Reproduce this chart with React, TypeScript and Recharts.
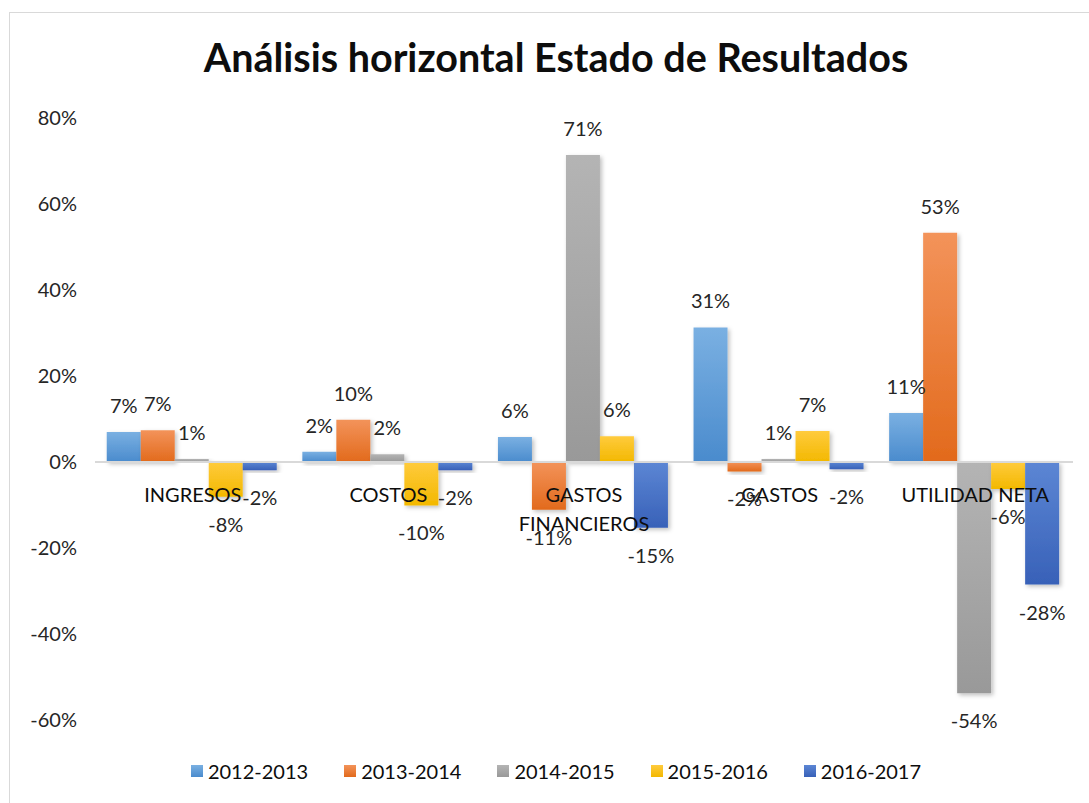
import { BarChart, Bar, XAxis, YAxis, ReferenceLine, LabelList } from "recharts";

const categories = ["INGRESOS", "COSTOS", "GASTOS FINANCIEROS", "GASTOS", "UTILIDAD NETA"];
const periods = ["2012-2013", "2013-2014", "2014-2015", "2015-2016", "2016-2017"];

const v2012 = [7.0, 2.4, 5.8, 31.3, 11.4];
const v2013 = [7.4, 9.8, -11.1, -2.2, 53.3];
const v2014 = [0.7, 1.8, 71.4, 0.7, -53.8];
const v2015 = [-8.1, -10.1, 6.0, 7.2, -6.3];
const v2016 = [-1.9, -1.9, -15.3, -1.7, -28.5];

const yTicks = [-60, -40, -20, 0, 20, 40, 60, 80];

const seriesValues = [v2012, v2013, v2014, v2015, v2016];
const colors = [
  { base: "#5b9bd5", top: "#7ab0e2", bottom: "#4a8bcd" },
  { base: "#ed7d31", top: "#f3935a", bottom: "#e26a1c" },
  { base: "#a5a5a5", top: "#b4b4b4", bottom: "#999999" },
  { base: "#ffc000", top: "#ffcb3d", bottom: "#f3b800" },
  { base: "#4472c4", top: "#5c86d4", bottom: "#3861b8" },
];

const data = categories.map((name, i) => {
  const row: Record<string, string | number> = { name };
  periods.forEach((p, s) => {
    row[p] = seriesValues[s][i];
  });
  return row;
});

const W = 1089;
const H = 803;
const MARGIN = { top: 118, right: 16, bottom: 53, left: 0 };
const X_AXIS_H = 30;
const Y_MIN = -60;
const Y_MAX = 80;
const PLOT_H = H - MARGIN.top - MARGIN.bottom - X_AXIS_H;
const FONT = "Lato, 'Open Sans', sans-serif";

function CategoryTick(props: any) {
  const { x, y, payload } = props;
  const zeroY = y - (PLOT_H * (0 - Y_MIN)) / (Y_MAX - Y_MIN);
  const text: string = payload.value;
  const lines = text.length > 14 ? text.split(" ") : [text];
  return (
    <text x={x} y={zeroY + 40} textAnchor="middle" fill="#0d0d0d" fontSize={20} fontFamily={FONT}>
      {lines.map((l, i) => (
        <tspan key={i} x={x} dy={i === 0 ? 0 : 29}>
          {l}
        </tspan>
      ))}
    </text>
  );
}

function ValueLabel(props: any) {
  const { x, y, width, height, value } = props;
  const top = Math.min(y, y + height);
  const bottom = Math.max(y, y + height);
  const ty = value >= 0 ? top - 19 : bottom + 35;
  return (
    <text x={x + width / 2} y={ty} textAnchor="middle" fill="#262626" fontSize={20} fontFamily={FONT}>
      {`${Math.round(value)}%`}
    </text>
  );
}

function App() {
  return (
    <div style={{ position: "absolute", left: 0, top: 0, width: W, height: H, overflow: "hidden", background: "#fff" }}>
      <div
        style={{
          position: "absolute",
          left: 9,
          top: 12,
          width: 1100,
          height: 820,
          border: "1px solid #d9d9d9",
        }}
      />
      <div
        style={{
          position: "absolute",
          left: 0,
          top: 33,
          width: 1112,
          textAlign: "center",
          fontFamily: FONT,
          fontWeight: 700,
          fontSize: 39.5,
          color: "#0d0d0d",
        }}
      >
        Análisis horizontal Estado de Resultados
      </div>

      <div style={{ position: "absolute", left: 0, top: 0 }}>
        <BarChart width={W} height={H} data={data} margin={MARGIN} barCategoryGap="6%" barGap={0}>
          <defs>
            <filter id="barShadow" x="-20%" y="-20%" width="150%" height="150%">
              <feDropShadow dx="2" dy="2" stdDeviation="2" floodColor="#000" floodOpacity="0.25" />
            </filter>
            {colors.map((c, i) => (
              <linearGradient key={i} id={`grad${i}`} x1="0" y1="0" x2="0" y2="1">
                <stop offset="0%" stopColor={c.top} />
                <stop offset="100%" stopColor={c.bottom} />
              </linearGradient>
            ))}
          </defs>
          <XAxis
            dataKey="name"
            height={X_AXIS_H}
            axisLine={false}
            tickLine={false}
            tickSize={0}
            tickMargin={0}
            interval={0}
            tick={<CategoryTick />}
          />
          <YAxis
            width={95}
            domain={[Y_MIN, Y_MAX]}
            ticks={yTicks}
            interval={0}
            axisLine={false}
            tickLine={false}
            tickSize={0}
            tickMargin={18}
            tickFormatter={(v: number) => `${v}%`}
            tick={{ fill: "#262626", fontSize: 20, fontFamily: FONT }}
          />
          <ReferenceLine y={0} stroke="#d9d9d9" strokeWidth={2} />
          {periods.map((p, i) => (
            <Bar
              key={p}
              dataKey={p}
              fill={`url(#grad${i})`}
              filter="url(#barShadow)"
              isAnimationActive={false}
            >
              <LabelList dataKey={p} content={<ValueLabel />} />
            </Bar>
          ))}
        </BarChart>
      </div>

      <div
        style={{
          position: "absolute",
          left: 0,
          top: 759,
          width: 1112,
          display: "flex",
          justifyContent: "center",
          fontFamily: FONT,
          fontSize: 20,
          color: "#0d0d0d",
        }}
      >
        {periods.map((p, i) => (
          <div key={p} style={{ display: "flex", alignItems: "center", margin: "0 18px" }}>
            <span
              style={{
                display: "inline-block",
                width: 12,
                height: 12,
                marginRight: 5,
                background: `linear-gradient(${colors[i].top}, ${colors[i].bottom})`,
              }}
            />
            <span>{p}</span>
          </div>
        ))}
      </div>
    </div>
  );
}

export default App;
